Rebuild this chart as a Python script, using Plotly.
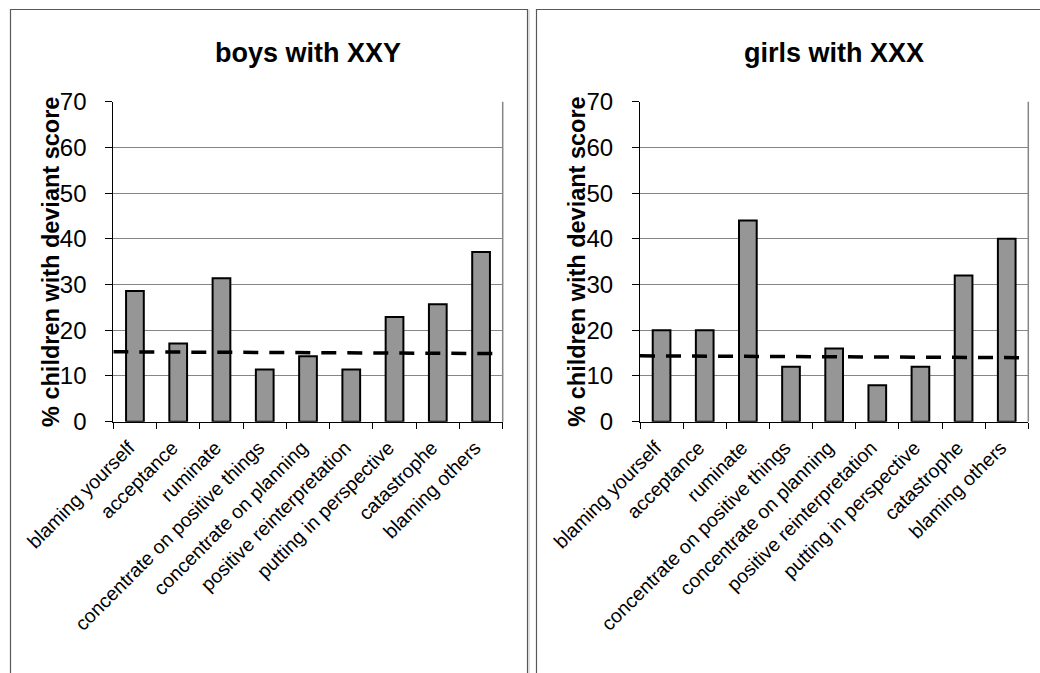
import plotly.graph_objects as go

# Coping strategies (CERQ subscales)
categories = [
    "blaming yourself", "acceptance", "ruminate",
    "concentrate on positive things", "concentrate on planning",
    "positive reinterpretation", "putting in perspective",
    "catastrophe", "blaming others",
]

# % of children with a deviant score
boys_xxy = [28.6, 17.1, 31.4, 11.4, 14.3, 11.4, 22.9, 25.7, 37.1]
girls_xxx = [20, 20, 44, 12, 16, 8, 12, 32, 40]

# Reference level (dashed line), value at left and right end of the axis
boys_ref = [15.3, 14.9]
girls_ref = [14.4, 14.0]
ref_x = [-0.5, 8.5]

y_ticks = [0, 10, 20, 30, 40, 50, 60, 70]

W, H = 1040, 673
FONT = "Liberation Sans, Arial, sans-serif"


def fx(p):
    return p / W


def fy(p):
    return 1 - p / H


panels = [
    dict(title="boys with XXY", values=boys_xxy, ref=boys_ref,
         x0=113.3, x1=502.7, y0=101.7, y1=421.7, xa="x", ya="y"),
    dict(title="girls with XXX", values=girls_xxx, ref=girls_ref,
         x0=640.0, x1=1028.3, y0=101.7, y1=421.7, xa="x2", ya="y2"),
]

fig = go.Figure()
annotations = []
shapes = []

for i, p in enumerate(panels):
    fig.add_trace(go.Bar(
        x=list(range(len(categories))), y=p["values"],
        xaxis=p["xa"], yaxis=p["ya"],
        marker=dict(color="#969696", line=dict(color="#000000", width=2)),
        width=0.41, showlegend=False, hoverinfo="skip",
    ))
    fig.add_trace(go.Scatter(
        x=ref_x, y=p["ref"], xaxis=p["xa"], yaxis=p["ya"],
        mode="lines", line=dict(color="#000000", width=3.5, dash="15px,11px"),
        showlegend=False, hoverinfo="skip",
    ))

    sfx = "" if i == 0 else str(i + 1)
    xdom = [fx(p["x0"]), fx(p["x1"])]
    ydom = [fy(p["y1"]), fy(p["y0"])]
    fig.layout["xaxis" + sfx] = dict(
        domain=xdom, anchor="y" + sfx, range=[-0.5, 8.5], automargin=False,
        tickmode="array", tickvals=list(range(len(categories))),
        ticktext=categories, tickangle=-45, ticks="",
        ticklabelshift=-6, ticklabelstandoff=6,
        tickfont=dict(family=FONT, size=19.5, color="#000000"),
        showline=True, linecolor="#000000", linewidth=1,
        showgrid=False, zeroline=False, fixedrange=True,
        minor=dict(tickmode="array",
                   tickvals=[k - 0.5 for k in range(len(categories) + 1)],
                   ticks="outside", ticklen=6, tickcolor="#000000",
                   tickwidth=1, showgrid=False),
    )
    fig.layout["yaxis" + sfx] = dict(
        domain=ydom, anchor="x" + sfx, range=[0, 70], automargin=False,
        tickmode="array", tickvals=y_ticks,
        ticks="outside", ticklen=7, tickcolor="#000000", tickwidth=1,
        ticklabelstandoff=14,
        tickfont=dict(family=FONT, size=24, color="#000000"),
        showline=True, linecolor="#000000", linewidth=1,
        showgrid=True, gridcolor="#868686", gridwidth=1,
        zeroline=False, fixedrange=True,
    )

    # right edge of the plot area
    shapes.append(dict(type="line", xref=p["xa"] + " domain", yref=p["ya"] + " domain",
                       x0=1, x1=1, y0=0, y1=1,
                       line=dict(color="#868686", width=1.5)))

    # chart title
    annotations.append(dict(
        text="<b>%s</b>" % p["title"], showarrow=False,
        xref="paper", yref="paper",
        x=fx((p["x0"] + p["x1"]) / 2), y=fy(53), xanchor="center", yanchor="middle",
        font=dict(family=FONT, size=27, color="#000000"),
    ))
    # y axis title
    annotations.append(dict(
        text="<b>% children with deviant score</b>", showarrow=False,
        xref="paper", yref="paper", textangle=-90,
        x=fx(p["x0"] - 63), y=fy((p["y0"] + p["y1"]) / 2),
        xanchor="center", yanchor="middle",
        font=dict(family=FONT, size=23.5, color="#000000"),
    ))

# chart frames
frame = dict(color="#595959", width=1.2)
shapes += [
    dict(type="path", xref="paper", yref="paper", layer="above",
         path="M %f %f L %f %f L %f %f L %f %f" % (
             fx(10.5), fy(700), fx(10.5), fy(9.5), fx(527.5), fy(9.5), fx(527.5), fy(700)),
         line=frame),
    dict(type="line", xref="paper", yref="paper", x0=fx(529), x1=fx(529),
         y0=fy(9.5), y1=fy(700), line=dict(color="#c8c8c8", width=1)),
    dict(type="path", xref="paper", yref="paper", layer="above",
         path="M %f %f L %f %f L %f %f" % (
             fx(536.5), fy(700), fx(536.5), fy(9.5), fx(1045), fy(9.5)),
         line=frame),
]

fig.update_layout(
    template="none",
    width=W, height=H, autosize=False,
    margin=dict(l=0, r=0, t=0, b=0, pad=0, autoexpand=False),
    paper_bgcolor="#ffffff", plot_bgcolor="#ffffff",
    bargap=0.59, showlegend=False,
    annotations=annotations, shapes=shapes,
    font=dict(family=FONT, color="#000000"),
)

fig.write_html("out.html", config={"displayModeBar": False})
